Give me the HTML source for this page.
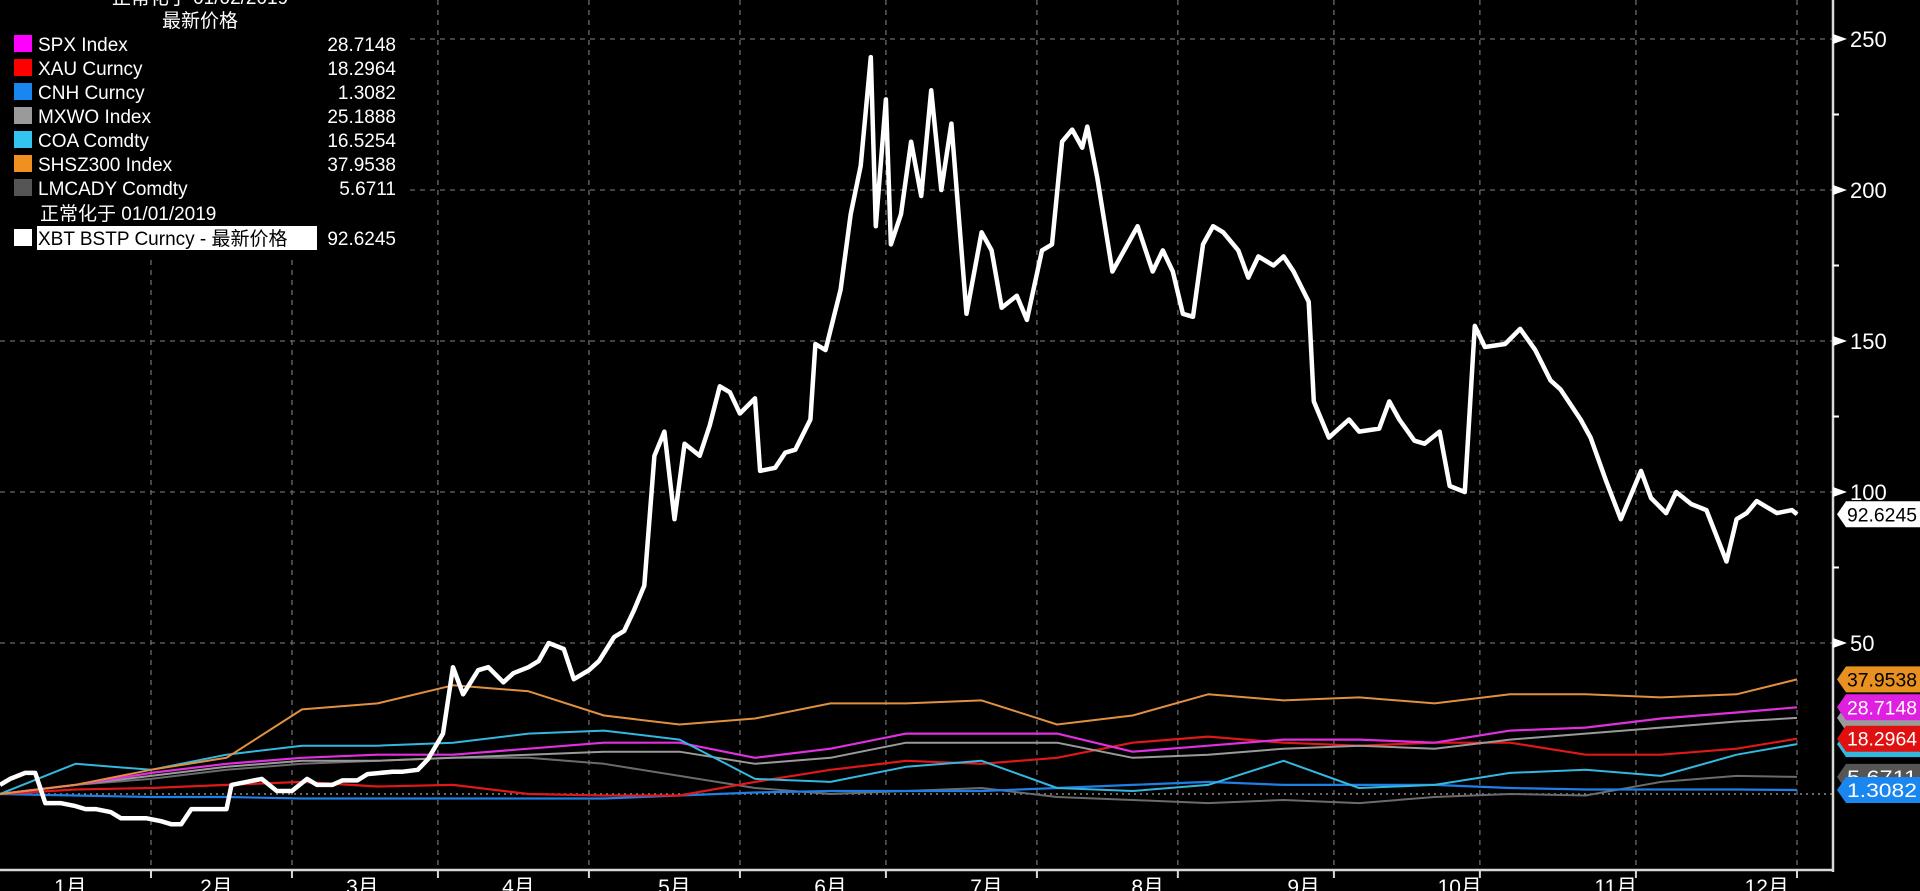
<!DOCTYPE html>
<html><head><meta charset="utf-8">
<style>
html,body{margin:0;padding:0;background:#000;}
svg{display:block;}
text{font-family:"Liberation Sans","Noto Sans CJK SC",sans-serif;}
</style></head>
<body>
<svg id="chart" width="1920" height="891" viewBox="0 0 1920 891" xmlns="http://www.w3.org/2000/svg">
<rect x="0" y="0" width="1920" height="891" fill="#000"/>
<g id="grid"></g>
<g id="series"></g>
<g id="axis"></g>
<g id="xaxis"></g>
<g id="tags"></g>
</svg>
<script>
const monthLabels=["1月","2月","3月","4月","5月","6月","7月","8月","9月","10月","11月","12月"];
const monthLabelDays=[14,43,72,103,134,165,196,228,259,290,321,351];
const gridDays=[30,58,87,117,147,176,206,234,265,294,325,357];
const yTicks=[50,100,150,200,250];
const yMinorTicks=[75,125,175,225];
const btcDays=[0,2,5,7,9,12,15,17,19,22,24,27,29,32,34,36,38,40,45,46,49,52,55,58,61,63,66,68,71,73,78,80,83,85,88,90,92,95,97,100,102,105,107,109,112,114,117,119,122,124,126,128,130,132,134,136,139,141,143,145,147,150,151,154,156,158,161,162,164,167,169,171,173,174,176,177,179,181,183,185,187,189,192,195,197,199,202,204,207,209,211,213,215,216,218,221,224,226,229,231,233,235,237,239,241,243,246,248,250,253,255,257,260,261,264,268,270,274,276,278,281,283,286,288,291,293,295,299,302,305,308,310,314,316,319,322,326,328,331,333,336,339,343,345,347,349,353,356,357];
const btcValues=[3,5,7,7,-3,-3,-4,-5,-5,-6,-8,-8,-8,-9,-10,-10,-5,-5,-5,3,4,5,1,1,5,3,3,4.5,4.5,6.6,7.4,7.4,8,11.5,20,42,33,41,42,37,40,42,44,50,48,38,41,44,52,54,61,69,112,120,91,116,112,122,135,133,126,131,107,108,113,114,124,149,147,167,192,208,244,188,230,182,192,216,198,233,200,222,159,186,180,161,165,157,180,182,216,220,214,221,204,173,182,188,173,180,173,159,158,182,188,186,180,171,178,175,178,173,163,130,118,124,120,121,130,124,117,116,120,102,100,155,148,149,154,147,137,134,124,118,104,91,107,98,93,100,96,94,77,91,93,97,93,94,92.6245];
const minorDays=[0,15,30,45,60,75,90,105,120,135,150,165,180,195,210,225,240,255,270,285,300,315,330,345,357];
const shszValues=[0,3,8,12,28,30,36,34,26,23,25,30,30,31,23,26,33,31,32,30,33,33,32,33,37.9538];
const spxValues=[0,3,7,10,12,13,13,15,17,17,12,15,20,20,20,14,16,18,18,17,21,22,25,27,28.7148];
const mxwoValues=[0,3,6,9,11,11,12,13,14,14,10,12,17,17,17,12,13,15,16,15,18,20,22,24,25.1888];
const xauValues=[0,1.5,2,3,4,2.5,3,0,-0.5,-0.5,4,8,11,10,12,17,19,17,16,17,17,13,13,15,18.2964];
const coaValues=[0,10,8,13,16,16,17,20,21,18,5,4,9,11,2,1,3,11,2,3,7,8,6,13,16.5254];
const cnhValues=[0,-0.5,-1,-1,-1.5,-1.5,-1.5,-1.5,-1.5,-0.5,0.5,1,1,1,2,3,4,3,3,3,2,1.5,1.5,1.5,1.3082];
const lmcadyValues=[0,3,5,8,10,11,12,12,10,6,2,0,1,2,-1,-2,-3,-2,-3,-1,0,-0.5,4,6,5.6711];

const NS="http://www.w3.org/2000/svg";
const X0=0,X1=1797,Y0=794,PXU=3.02,AXR=1833,AXB=870;
function xs(d){return X0+d/357*(X1-X0);}
function ys(v){return Y0-v*PXU;}
function mk(tag,attrs,parent){const e=document.createElementNS(NS,tag);for(const k in attrs)e.setAttribute(k,attrs[k]);parent.appendChild(e);return e;}

const grid=document.getElementById('grid');
yTicks.forEach(v=>{
  const l=mk('line',{x1:0,x2:AXR,y1:ys(v),y2:ys(v),stroke:'#6a6a6a','stroke-width':1.3,'stroke-dasharray':'5,5'},grid);
  
  
});
const zl=mk('line',{x1:0,x2:AXR,y1:ys(0),y2:ys(0),stroke:'#8a8a8a','stroke-width':1.5,'stroke-dasharray':'2,4'},grid);


gridDays.forEach((d,i)=>{
  const l=mk('line',{x1:xs(d),x2:xs(d),y1:0,y2:AXB,stroke:'#6a6a6a','stroke-width':1.3,'stroke-dasharray':'5,5'},grid);
  
  
});

const series=document.getElementById('series');
function line(days,vals,color,w,name){
  const p=mk('path',{d:days.map((d,i)=>(i?'L':'M')+xs(d).toFixed(1)+','+ys(vals[i]).toFixed(1)).join(''),fill:'none',stroke:color,'stroke-width':w,'stroke-linejoin':'round'},series);
  
  
}
line(minorDays,lmcadyValues,'#6b6b6b',2,'lmcady-line');
line(minorDays,cnhValues,'#1e7fe6',2.2,'cnh-line');
line(minorDays,xauValues,'#e01818',2.2,'xau-line');
line(minorDays,mxwoValues,'#9a9a9a',2,'mxwo-line');
line(minorDays,spxValues,'#e030e0',2.2,'spx-line');
line(minorDays,coaValues,'#33b8e0',2,'coa-line');
line(minorDays,shszValues,'#e09040',2,'shsz300-line');
line(btcDays,btcValues,'#ffffff',4.5,'xbt-line');

const axis=document.getElementById('axis');
const al=mk('line',{x1:AXR,x2:AXR,y1:0,y2:AXB+2,stroke:'#d8d8d8','stroke-width':2.5},axis);


yTicks.forEach(v=>{
  const t=mk('polygon',{points:`${AXR},${ys(v)-5} ${AXR+14},${ys(v)} ${AXR},${ys(v)+5}`,fill:'#fff'},axis);
  
  
  const tx=mk('text',{x:AXR+17,y:ys(v)+8,fill:'#fff','font-size':22},axis);
  tx.textContent=v;
  
  
});
yMinorTicks.forEach(v=>{
  const t=mk('line',{x1:AXR,x2:AXR+6,y1:ys(v),y2:ys(v),stroke:'#fff','stroke-width':2},axis);
  
  
});

const xaxis=document.getElementById('xaxis');
const bl=mk('line',{x1:0,x2:AXR+1,y1:AXB,y2:AXB,stroke:'#d8d8d8','stroke-width':2.5},xaxis);


gridDays.forEach((d,i)=>{
  const t=mk('line',{x1:xs(d),x2:xs(d),y1:AXB,y2:AXB+8,stroke:'#d8d8d8','stroke-width':2},xaxis);
  
  
});
monthLabels.forEach((m,i)=>{
  const t=mk('text',{x:xs(monthLabelDays[i]),y:AXB+24,fill:'#fff','font-size':21,'text-anchor':'middle'},xaxis);
  t.textContent=m;
  
  
});

const tags=document.getElementById('tags');
function tag(v,label,bg,fg,name,hide){
  const y=ys(v),h=26,x=1837;
  const p=mk('polygon',{points:`${x},${y} ${x+9},${y-h/2} 1920,${y-h/2} 1920,${y+h/2} ${x+9},${y+h/2}`,fill:bg},tags);
  
  
  if(!hide){
    const t=mk('text',{x:1917,y:y+7,fill:fg,'font-size':19,'text-anchor':'end','textLength':70,'lengthAdjust':'spacingAndGlyphs'},tags);
    t.textContent=label;
    
    
  }
}
tag(16.5254,'16.5254','#33b8e0','#000','coa',true);
tag(25.1888,'25.1888','#9a9a9a','#000','mxwo',true);
tag(37.9538,'37.9538','#e89020','#000','shsz300');
tag(28.7148,'28.7148','#e020e0','#fff','spx');
tag(18.2964,'18.2964','#e01010','#fff','xau');
tag(5.6711,'5.6711','#555','#fff','lmcady');
tag(1.3082,'1.3082','#1a86f0','#fff','cnh');
tag(92.6245,'92.6245','#fff','#000','xbt');
</script>
<svg style="position:absolute;left:0;top:0" width="410" height="260" xmlns="http://www.w3.org/2000/svg">
<rect x="0" y="0" width="405" height="256" fill="#000"/>
<text x="200" y="4" fill="#fff" font-size="19" text-anchor="middle" font-family="Liberation Sans, Noto Sans CJK SC, sans-serif">正常化于 01/02/2019</text>
<text x="200" y="27" fill="#fff" font-size="19" text-anchor="middle" font-family="Liberation Sans, Noto Sans CJK SC, sans-serif">最新价格</text>
<g font-family="Liberation Sans, Noto Sans CJK SC, sans-serif" font-size="19" fill="#fff">
<g><rect x="14" y="35" width="18" height="17" fill="#ff00ff"/><text x="38" y="51">SPX Index</text><text x="396" y="51" text-anchor="end">28.7148</text></g>
<g><rect x="14" y="59" width="18" height="17" fill="#ff0000"/><text x="38" y="75">XAU Curncy</text><text x="396" y="75" text-anchor="end">18.2964</text></g>
<g><rect x="14" y="83" width="18" height="17" fill="#1a86f0"/><text x="38" y="99">CNH Curncy</text><text x="396" y="99" text-anchor="end">1.3082</text></g>
<g><rect x="14" y="107" width="18" height="17" fill="#9a9a9a"/><text x="38" y="123">MXWO Index</text><text x="396" y="123" text-anchor="end">25.1888</text></g>
<g><rect x="14" y="131" width="18" height="17" fill="#33c4f0"/><text x="38" y="147">COA Comdty</text><text x="396" y="147" text-anchor="end">16.5254</text></g>
<g><rect x="14" y="155" width="18" height="17" fill="#f09020"/><text x="38" y="171">SHSZ300 Index</text><text x="396" y="171" text-anchor="end">37.9538</text></g>
<g><rect x="14" y="179" width="18" height="17" fill="#555"/><text x="38" y="195">LMCADY Comdty</text><text x="396" y="195" text-anchor="end">5.6711</text></g>
<text x="40" y="220">正常化于 01/01/2019</text>
<g><rect x="14" y="229" width="18" height="17" fill="#fff"/><rect x="37" y="226" width="280" height="24" fill="#fff"/><text x="38" y="245" fill="#000">XBT BSTP Curncy - 最新价格</text><text x="396" y="245" text-anchor="end">92.6245</text></g>
</g>
</svg>
</body></html>
